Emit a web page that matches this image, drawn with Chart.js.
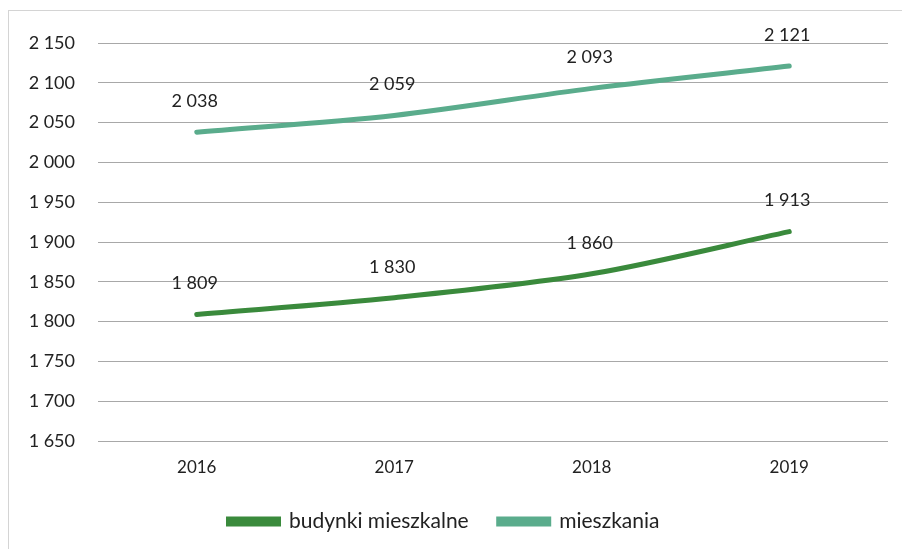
<!DOCTYPE html>
<html>
<head>
<meta charset="utf-8">
<script src="https://cdn.jsdelivr.net/npm/chart.js"></script>
<style>
  html, body { margin: 0; padding: 0; background: #fff; }
  #wrap { width: 902px; height: 549px; position: relative; }
</style>
</head>
<body>
<div id="wrap"><canvas id="chart" width="902" height="549"></canvas></div>
<script>
const years = ['2016', '2017', '2018', '2019'];
const budynki = [1809, 1830, 1860, 1913];
const mieszkania = [2038, 2059, 2093, 2121];
const yMin = 1650, yMax = 2150, yStep = 50;

const FONT = 'Lato, "Open Sans", sans-serif';

function fmt(v) {
    return String(v).replace(/\B(?=(\d{3})+(?!\d))/g, ' ');
}

// data labels above each point
const pointLabels = {
    id: 'pointLabels',
    afterDatasetsDraw(chart) {
        const ctx = chart.ctx;
        ctx.save();
        ctx.font = '18px ' + FONT;
        ctx.fillStyle = '#222';
        ctx.textAlign = 'center';
        ctx.textBaseline = 'middle';
        chart.data.datasets.forEach((ds, i) => {
            chart.getDatasetMeta(i).data.forEach((pt, j) => {
                ctx.fillText(fmt(ds.data[j]), pt.x - 2, pt.y - 31);
            });
        });
        ctx.restore();
    }
};

const frame = {
    id: 'frame',
    beforeDraw(chart) {
        const ctx = chart.ctx;
        ctx.save();
        ctx.strokeStyle = '#d4d4d4';
        ctx.lineWidth = 1;
        ctx.strokeRect(8.5, 10.5, 900, 560);
        ctx.restore();
    }
};

new Chart(document.getElementById('chart').getContext('2d'), {
    type: 'line',
    data: {
        labels: years,
        datasets: [
            {
                label: 'budynki mieszkalne',
                data: budynki,
                borderColor: '#3a8a3c',
                backgroundColor: '#3a8a3c',
                borderWidth: 5,
                borderCapStyle: 'round',
                tension: 0.3,
                pointRadius: 0
            },
            {
                label: 'mieszkania',
                data: mieszkania,
                borderColor: '#5aac8c',
                backgroundColor: '#5aac8c',
                borderWidth: 5,
                borderCapStyle: 'round',
                tension: 0.3,
                pointRadius: 0
            }
        ]
    },
    options: {
        responsive: false,
        animation: false,
        layout: { padding: { top: 43, right: 14, left: 0, bottom: 7 } },
        plugins: {
            legend: {
                position: 'bottom',
                labels: {
                    boxWidth: 50,
                    boxHeight: 5,
                    padding: 30,
                    color: '#222',
                    font: { size: 21, family: FONT }
                }
            },
            tooltip: { enabled: false }
        },
        scales: {
            x: {
                offset: true,
                grid: { display: false },
                border: { display: false },
                ticks: {
                    color: '#222',
                    padding: 8,
                    font: { size: 17, family: FONT }
                },
                afterFit(scale) { scale.height = 40; }
            },
            y: {
                min: yMin,
                max: yMax,
                border: { display: false },
                grid: { color: '#a8a8a8', lineWidth: 1, drawTicks: false },
                ticks: {
                    stepSize: yStep,
                    color: '#222',
                    padding: 23,
                    font: { size: 18, family: FONT },
                    callback: v => fmt(v)
                },
                afterFit(scale) { scale.width = 98; }
            }
        }
    },
    plugins: [pointLabels, frame]
});
</script>
</body>
</html>
